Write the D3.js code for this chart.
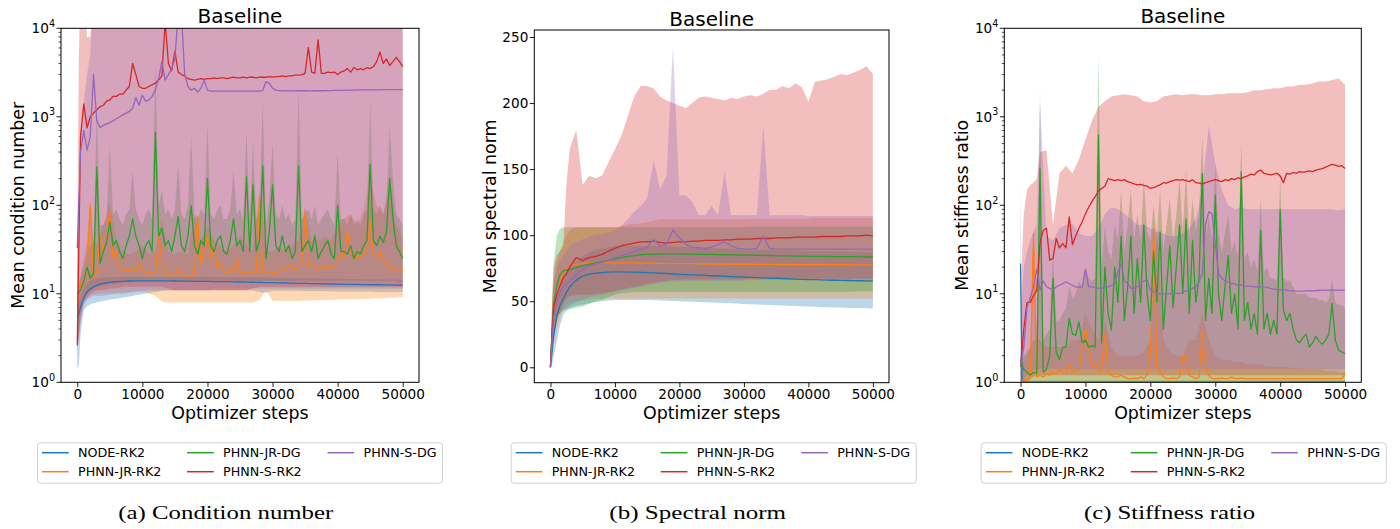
<!DOCTYPE html>
<html><head><meta charset="utf-8">
<script src="https://cdn.jsdelivr.net/npm/d3@7"></script>
<style>body{margin:0;background:#fff;} text{font-family:"DejaVu Sans",sans-serif;}</style>
</head><body>
<script>
// ---------------- DATA ----------------
const seriesNames = ["NODE-RK2","PHNN-JR-RK2","PHNN-JR-DG","PHNN-S-RK2","PHNN-S-DG"];
const seriesColors = ["#1f77b4","#ff7f0e","#2ca02c","#d62728","#9467bd"];
const xTicks = [0,10000,20000,30000,40000,50000];
const linTicks = [0,50,100,150,200,250];
const logTicks = [1,10,100,1000,10000];
const captions = ["(a) Condition number","(b) Spectral norm","(c) Stiffness ratio"];
const yLabels = ["Mean condition number","Mean spectral norm","Mean stiffness ratio"];
const titleText = "Baseline";
const xLabelText = "Optimizer steps";

// step grids
const stepsFine = d3.range(0, 50001, 500);            // 101 steps
const stepsCoarse = [0,250,500,1000,1500,2000,2500,3000].concat(d3.range(4000, 50001, 1000)); // 55 steps

// ---- (a) condition number ----
const cnBlue = [5.5,6,7,9,10.5,11.3,12,12.5,
 13.1,13.5,13.7,13.85,13.95,14,14,
 14,14,14,14,13.95,13.9,13.9,13.85,13.8,13.8,
 13.75,13.7,13.7,13.65,13.6,13.55,13.5,13.45,13.4,13.35,
 13.3,13.25,13.2,13.15,13.1,13.05,13,12.95,12.9,12.85,
 12.8,12.78,12.75,12.72,12.7,12.65,12.62,12.6,12.55,12.5];
const cnOrange = [9,12,15,18,100,15,18,45,30,38,
 85,25,30,20,19,18,18.5,18,18,22,
 18,17,17,17.5,17,45,22,17,16.5,16,
 16,19,16,16,15.8,15.8,16,75,22,30,
 45,25,35,20,22,18,17,19,17,25,
 17,18,17,17.5,17,17,120,17.5,17,17,
 17.5,17,18,18,19,21,20,19,20,22,
 85,20,21,20,19,20,21,19,20,21,
 24,28,26,50,30,25,27,26,28,30,
 68,28,26,30,24,21,20,19,19,18.5,
 18.5];
const cnGreen = [10,11,14,20,15,17,270,22,30,38,
 65,35,40,30,25,35,45,70,45,35,
 25,35,40,30,670,45,55,35,40,30,
 45,75,35,30,45,100,35,28,40,35,
 200,35,30,40,45,30,28,40,70,35,
 40,30,210,30,170,30,40,280,25,50,
 170,35,30,45,30,35,25,30,280,30,
 35,40,30,45,25,30,35,40,28,25,
 100,30,30,28,35,25,30,28,35,40,
 290,40,35,45,38,50,200,70,35,30,
 25];
const cnRed = [2.6,600,1400,750,1000,1100,1200,1300,1350,1500,
 1550,1700,1700,1800,1800,2000,2200,4000,3000,2200,
 2100,2100,2200,2300,2400,2600,2900,12000,4000,3300,
 5500,3200,3000,2900,2700,2650,2600,2650,2700,2650,
 2700,2700,2750,2700,2750,2750,2700,2750,2800,2750,
 2750,2800,2750,2800,2800,2750,2800,2800,2800,2850,
 2800,2850,2850,2900,2850,2900,2900,2950,2950,3000,
 3100,6100,3200,3100,7400,3100,3100,3200,3150,3200,
 3000,3200,3300,3500,3200,3600,3400,3500,3400,3600,
 3500,3700,4200,5400,4000,4500,3800,4200,4700,4200,
 3700];
const cnPurple = [33,400,700,420,600,3000,900,760,800,830,
 860,900,950,1000,1050,1100,1150,1250,1650,1350,
 1750,1500,1550,1700,2000,2700,4200,2600,3000,3500,
 4500,15000,15000,3000,2200,2000,2100,1900,2100,2600,
 2000,1950,1950,1950,1950,1950,1950,1950,1950,1950,
 1950,1950,1950,1950,1950,1950,1950,1980,2500,2400,
 2100,2000,1980,1970,1960,1960,1960,1960,1970,1970,
 1970,1960,1960,1970,1980,1970,1970,1980,1980,1990,
 1990,1990,2000,2000,2000,2000,2010,2010,2010,2020,
 2020,2020,2020,2020,2030,2030,2030,2030,2030,2030,
 2030];
const cnBlueLo = [1.4,1.6,3.5,6.5,7.2,7.6,7.8,8,
 8.3,8.6,8.8,9,9.3,9.6,9.9,
 10.2,10.5,10.8,11,11,11,11,11,11,11,
 11,11,11,11,11,11,10.8,10.5,10.3,10.8,
 10.8,10.8,10.8,10.8,10.7,10.7,10.7,10.7,10.7,10.6,
 10.6,10.6,10.6,10.6,10.6,10.5,10.5,10.5,10.5,10.5];
const cnBlueHi = [8,8,9.5,11.5,13,14,14.5,15,
 15.3,15.5,15.5,15.6,15.6,15.6,15.6,
 15.6,15.6,15.6,15.6,15.6,15.6,15.6,15.6,15.6,15.6,
 15.5,15.5,15.5,15.5,15.4,15.4,15.4,15.3,15.3,15.2,
 15.2,15.1,15.1,15,15,14.9,14.9,14.8,14.8,14.8,
 14.7,14.7,14.7,14.6,14.6,14.6,14.5,14.5,14.5,14.5];
const cnOrangeLo = [2,4,6,8,9,9.5,9.8,10,
 10.2,10.3,10.3,10.4,10.5,10.8,11,
 10,9.5,8.2,8,8,8,8,8,8,8,
 8,8,8,8,8,8,8,8.5,11,8.3,
 8.3,8.3,8.3,8.3,8.4,8.4,8.4,8.5,8.5,8.6,
 8.6,8.7,8.7,8.8,8.8,8.9,8.9,9,9.1,9.2];
const cnOrangeHi = [10,13,16,25,40,120,40,35,
 60,110,40,30,28,30,35,
 28,30,70,30,28,30,28,80,40,60,
 40,35,30,35,45,35,30,150,30,30,
 35,30,35,40,100,40,40,45,40,60,
 70,80,60,90,200,100,80,200,60,45];
// green band on the fine step grid
const cnGreenLo = [2.5,7,9,10,11,11.5,12,12,12.5,12.5,
 13,13,13,13,13.5,13.5,13.5,13.5,14,14,
 14,14,14,14,14,14,14,14,14,14,
 14,14,14,14,14,14,14,14,14,14,
 14,14,14,14,14,14,14,14,14,14,
 14,14,14,14,14,14,14,14,14,14,
 14,14,14,14,14,14,14,14,14,14,
 14,14,14,14,14,14,14,14,14,14,
 14,14,14,14,14,14,14,14,14,14,
 14,14,14,14,14,14,14,14,13.8,13.6,
 13.5];
const cnGreenHi = [12,15,20,30,35,40,1200,60,60,70,
 500,80,90,70,60,80,90,250,90,70,
 60,80,90,70,4000,100,150,80,90,70,
 90,300,80,70,100,600,80,70,90,80,
 800,80,70,90,100,70,70,90,250,80,
 90,70,700,70,500,70,90,1500,60,120,
 500,80,70,100,70,80,60,70,2000,70,
 80,90,70,100,60,70,80,90,70,60,
 400,70,70,60,80,60,70,60,80,90,
 1500,90,80,100,80,110,800,200,80,70,
 60];
const cnRedLo = [2.5,3,5,8,9,10,10.5,11,
 11,11.5,11.5,12,12,12,12,
 12,12,12,11.5,11,11,11,11,11,11,
 11,11,11,11,11,11,11.5,12,12,12,
 12,12,12,12,12,12,12,12,12,12,
 12,12,12,12,12,12,12,12,12,12];
const cnRedHi = [40,5000,30000,30000,8000,8000,30000,30000,
 30000,30000,30000,30000,30000,30000,30000,
 30000,30000,30000,30000,30000,30000,30000,30000,30000,30000,
 30000,30000,30000,30000,30000,30000,30000,30000,30000,30000,
 30000,30000,30000,30000,30000,30000,30000,30000,30000,30000,
 30000,30000,30000,30000,30000,30000,30000,30000,30000,30000];
const cnPurpleLo = [2.6,3,5,7.5,8.5,9,9.5,9.5,
 9.5,9.8,10,10,10.2,10.5,10.5,
 11,11,11,11,11,11,11,11,11,11,
 11.5,11.5,11.5,11.5,11.5,11.5,11.5,11.5,11.5,11.5,
 11.5,11.5,11.5,11.5,11.5,11.5,11.5,11.5,11.5,11.5,
 11.5,11.5,11.5,11.5,11.5,11.5,11.5,11.5,11.5,11.5];
const cnPurpleHi = [33,60,600,1500,3000,5000,30000,30000,
 30000,30000,30000,30000,30000,30000,30000,
 30000,30000,30000,30000,30000,30000,30000,30000,30000,30000,
 30000,30000,30000,30000,30000,30000,30000,30000,30000,30000,
 30000,30000,30000,30000,30000,30000,30000,30000,30000,30000,
 30000,30000,30000,30000,30000,30000,30000,30000,30000,30000];

// ---- (b) spectral norm ----
const snBlue = [0,12,24,39,47,52,57,61,
 66,69,70.5,71.2,71.6,72,72.2,
 72.2,72.1,72,71.8,71.6,71.4,71.2,71,70.6,70.3,
 70.1,69.9,69.7,69.5,69.3,69.1,68.9,68.7,68.5,68.3,
 68.1,67.9,67.7,67.5,67.4,67.2,67,66.8,66.6,66.4,
 66.3,66.1,66,65.9,65.8,65.7,65.6,65.5,65.4,65.3];
const snOrange = [0,25,42,55,63,72,75,76.5,
 78,78.7,79,79,79,79,79,
 79,79,79,79,78.9,78.8,78.7,78.6,78.5,78.5,
 78.4,78.4,78.3,78.3,78.2,78.2,78.1,78.1,78,78,
 78,77.9,77.9,77.9,77.8,77.8,77.8,77.8,77.7,77.7,
 77.7,77.7,77.6,77.6,77.6,77.6,77.5,77.5,77.5,77.5];
const snGreen = [0,28,48,62,70,73,73.5,74,
 75.5,76.5,78,79,80,81,82,
 83,84,84.5,85.2,85.5,85.6,85.7,85.8,85.8,85.8,
 85.7,85.6,85.5,85.5,85.4,85.3,85.2,85.1,85,85,
 84.9,84.8,84.7,84.6,84.5,84.4,84.3,84.2,84.1,84,
 84,83.9,83.9,83.8,83.8,83.7,83.7,83.6,83.5,83.5];
const snRed = [0,25,45,55,62,68,71,76,
 83,81,83,84,85.5,88,90,
 92,93,94,95,95,95.5,94.5,94,94.5,95,
 95,95.5,95.5,96,96,96,96.5,96.5,97,97,
 97,97.5,97.5,97.5,98,98,98,98.5,98.5,98.5,
 98.5,99,99,99,99,99.5,99.5,99.5,100,99.5];
const snPurple = [0,20,38,50,57,61,63,65,
 70,74,76.5,78,79.5,81,83,
 84.5,86,87.5,89,91,96.5,92,93,104,98,
 93,91,90.5,90,91,93,95,92,90,89.5,
 89.5,90,99,90,89.5,89.5,89.5,89.5,89.5,89.5,
 89.5,89.5,89.5,89.5,89.5,89.5,89.5,89.5,89.5,89.5];
const snBlueLo = [0,2,8,20,32,40,43,45,
 46.5,47.5,48.5,49.5,50,50.5,51,
 51,51,51,51,51,50.8,50.6,50.4,50.2,50,
 49.8,49.6,49.4,49.2,49,48.8,48.6,48.4,48.2,48,
 47.8,47.6,47.4,47.2,47,46.8,46.6,46.4,46.2,46,
 45.8,45.6,45.5,45.3,45.2,45,44.9,44.8,44.6,44.5];
const snBlueHi = [0,25,40,55,62,68,72,76,
 80,84,87,89,90,91,92,
 92,92,92,92,92,92,91.8,91.6,91.4,91.2,
 91,90.8,90.6,90.4,90.2,90,89.8,89.6,89.4,89.2,
 89,88.9,88.8,88.7,88.6,88.5,88.4,88.3,88.2,88.1,
 88,87.9,87.8,87.7,87.6,87.5,87.4,87.3,87.2,87.1];
const snOrangeLo = [0,5,18,30,38,44,47,49,
 50,51,51.5,51.8,52,52,52,
 52,52,52,52,52,52,52,52,52,52,
 52,52,52,52,52,52,52,52,52,52,
 52,52,52,52,52,52,52,52,52,52,
 52,52,52,52,52,52,52,52,52,52];
const snOrangeHi = [0,45,65,80,88,95,100,104,
 106,106,106,106,106,106,106,
 107,108,108.5,109,110,111,112,112,112,112,
 112,112,112,112,112,112,112,112,112,112,
 112.5,112.5,112.5,112.5,112.5,112.5,112.5,112.5,112.5,112.5,
 113,113,113,113,113,113,113,113,113,113];
const snGreenLo = [0,10,25,38,41,43,43.5,44,
 45,46,48,50,51,53,55,
 56,56.5,57,57,57,57,57,57,57,57,
 57,57,57,57,57,57,57,57,57,57,
 57,57,57,57,57,57,57,57,57,57,
 57,57,57,57,57,57.2,57.2,57.4,57.4,57.5];
const snGreenHi = [0,50,80,100,105,106,106,106,
 106,106,106,106,106,106,106,
 106,106,106,106,106,106,106,106,106,106,
 106,106,106,106,106,106,106,106,106,106,
 106.5,106.5,106.5,106.5,106.5,106.5,106.5,106.5,106.5,106.5,
 106.5,106.5,106.5,106.5,106.5,106.5,106.5,106.5,106.5,106.5];
const snRedLo = [0,10,22,35,42,48,52,54,
 55,55,55,55.5,56,57,58,
 59,60,61,62,63,64,65,65.5,66,66,
 66.5,66.5,66.5,66.5,66.5,66.5,66.5,66.5,66.5,66.5,
 67,67,67,67,67,67,67,67,67,67,
 67,67,67,67,67,67,67,67,67,67];
const snRedHi = [0,50,75,85,88,92,140,165,
 180,138,145,143,145,155,165,
 175,190,205,213,213,211,205,202,200,198,
 196,200,204,205,204,203,202,204,203,205,
 206,205,207,210,210,213,211,215,212,201,
 216,217,218,220,222,221,223,225,228,222];
const snPurpleLo = [0,10,25,38,42,44,45,47,
 49,51,53,54,55,56,57,
 58,59,60,61,62,63,64,64.5,65,65,
 65.5,65.5,65.5,65.5,65.5,65.5,65.5,65.5,65.5,65.5,
 66,66,66,66,66,66,66,66,66,66,
 66,66,66,66,66,66,66,66,66,66];
const snPurpleHi = [0,40,60,75,80,85,88,92,
 95,97,99,100,101,102,104,
 107,112,118,122,128,157,135,145,243,130,
 130,125,115,115,122,115,148,115,115,115,
 115,115,183,115,115,115,115,115,115,114.5,
 114.5,114.5,114.5,114.5,114.5,114.5,114.5,114.5,114.5,114.5];

// ---- (c) stiffness ratio ----
const srBlue = [22,1,1,1,1,1,1,1,
 1,1,1,1,1,1,1,
 1,1,1,1,1,1,1,1,1,1,
 1,1,1,1,1,1,1,1,1,1,
 1,1,1,1,1,1,1,1,1,1,
 1,1,1,1,1,1,1,1,1,1];
const srOrange = [1.0,1.05,1.05,1.1,48,1.15,1.2,1.15,1.25,1.2,
 1.3,1.25,1.4,1.3,1.25,1.6,1.3,1.35,1.4,2.5,
 4.0,2.5,1.5,1.7,1.3,1.4,3.6,1.3,1.2,1.15,
 1.15,1.2,1.15,1.1,1.1,1.12,1.1,1.15,1.1,1.2,
 1.8,55,1.5,1.3,1.15,1.1,1.1,1.12,1.1,1.15,
 1.9,2.0,1.2,1.15,1.1,1.15,3.8,1.5,1.2,1.1,
 1.1,1.1,1.12,1.1,1.1,1.15,1.1,1.1,1.12,1.1,
 1.1,1.1,1.1,1.1,1.1,1.1,1.1,1.1,1.1,1.1,
 1.1,1.1,1.1,1.1,1.1,1.1,1.1,1.1,1.1,1.1,
 1.1,1.1,1.1,1.1,1.1,1.1,1.1,1.1,1.1,1.1,
 1.25];
const srGreen = [1.8,1.4,1.3,1.2,1.3,1.25,260,1.3,1.4,2.0,
 15,2.2,1.8,2.5,2.5,5.3,3.5,3.4,4.8,2.8,
 3.0,2.5,2.6,2.5,620,2.8,20,6,3.9,20,
 8,45,5,12,45,6,25,8,60,10,
 5,30,8,50,4,12,35,7,20,60,
 10,70,6,40,8,15,230,5,15,6,
 130,10,5,12,27,6,10,4,240,5,
 8,4,6,3.5,52,4,6,3.5,5,3.5,
 90,6.5,5,6,4,3,2.8,3.2,3.5,2.5,
 2.8,3.3,2.9,2.7,3.0,3.5,7.8,3,2.3,2.2,
 2.1];
const srRed = [1.5,4,8,8,9.5,11,38,52,55,24,
 25,42,33,37,33,74,36,45,55,65,
 80,95,110,125,145,155,165,200,195,190,
 195,190,195,185,180,175,170,172,168,165,
 155,158,165,170,180,178,185,190,195,192,
 195,190,185,195,180,178,175,180,185,190,
 195,190,185,195,190,200,195,205,200,210,
 215,225,220,240,250,230,225,220,225,230,
 215,180,230,225,235,230,240,235,240,245,
 240,250,255,260,270,280,290,285,275,280,
 260];
const srPurple = [1.5,2.5,7,9,12,19,11,14,12,11.5,
 11,12,12.5,13,13.7,13,12.5,12,11.8,12,
 19,12,12,11.8,11.5,11.5,12,12,12.5,13,
 18,22,14,13,11.5,11.5,12,13,14,14.5,
 11,10.5,10.2,10,10,10,10,10,10.2,10,
 10.5,10.8,11,11.5,12,13.5,17,60,85,80,
 37,17,15,14,13.5,13,13,12.5,12.5,12.2,
 12.2,12.2,12,12,12,12,11.8,11.5,11.3,11.2,
 11,11,11,10.8,10.8,10.7,10.7,10.7,10.8,10.8,
 10.8,10.9,10.9,11,11,11,11,11,11,11,
 11];
const srBlueLo = [1,0.95,0.95,0.95,0.95,0.95,0.95,0.95,
 0.95,0.95,0.95,0.95,0.95,0.95,0.95,
 0.95,0.95,0.95,0.95,0.95,0.95,0.95,0.95,0.95,0.95,
 0.95,0.95,0.95,0.95,0.95,0.95,0.95,0.95,0.95,0.95,
 0.95,0.95,0.95,0.95,0.95,0.95,0.95,0.95,0.95,0.95,
 0.95,0.95,0.95,0.95,0.95,0.95,0.95,0.95,0.95,0.95];
const srBlueHi = [190,1.2,1.05,1.05,1.05,1.05,1.05,1.05,
 1.05,1.05,1.05,1.05,1.05,1.05,1.05,
 1.05,1.05,1.05,1.05,1.05,1.05,1.05,1.05,1.05,1.05,
 1.05,1.05,1.05,1.05,1.05,1.05,1.05,1.05,1.05,1.05,
 1.05,1.05,1.05,1.05,1.05,1.05,1.05,1.05,1.05,1.05,
 1.05,1.05,1.05,1.05,1.05,1.05,1.05,1.05,1.05,1.05];
const srOrangeLo = [0.95,0.95,0.95,0.95,0.95,0.95,0.95,0.95,
 0.95,0.95,0.95,0.95,0.95,0.95,0.95,
 0.95,0.95,0.95,0.95,0.95,0.95,0.95,0.95,0.95,0.95,
 0.95,0.95,0.95,0.95,0.95,0.95,0.95,0.95,0.95,0.95,
 0.95,0.95,0.95,0.95,0.95,0.95,0.95,0.95,0.95,0.95,
 0.95,0.95,0.95,0.95,0.95,0.95,0.95,0.95,0.95,0.95];
const srOrangeHi = [1.3,1.5,1.8,2,2.5,60,3,3,
 2.5,2.5,2.5,2.5,3,3,6,
 4,3,5,2.5,2,2,2,2,2.2,3,
 60,3,2.2,2,2,3,3,6,3,2,
 1.8,1.8,1.7,1.7,1.6,1.6,1.6,1.5,1.5,1.5,
 1.5,1.45,1.45,1.4,1.4,1.4,1.35,1.35,1.3,1.3];
// green band on the fine step grid
const srGreenLo = [0.95,0.95,0.95,0.95,0.95,0.95,0.95,0.95,0.95,0.95,
 0.95,0.95,0.95,0.95,0.95,0.95,0.95,0.95,0.95,0.95,
 0.95,0.95,0.95,0.95,0.95,0.95,0.95,0.95,0.95,0.95,
 0.95,0.95,0.95,0.95,0.95,0.95,0.95,0.95,0.95,0.95,
 0.95,0.95,0.95,0.95,0.95,0.95,0.95,0.95,0.95,0.95,
 0.95,0.95,0.95,0.95,0.95,0.95,0.95,0.95,0.95,0.95,
 0.95,0.95,0.95,0.95,0.95,0.95,0.95,0.95,0.95,0.95,
 0.95,0.95,0.95,0.95,0.95,0.95,0.95,0.95,0.95,0.95,
 0.95,0.95,0.95,0.95,0.95,0.95,0.95,0.95,0.95,0.95,
 0.95,0.95,0.95,0.95,0.95,0.95,0.95,0.95,0.95,0.95,
 0.95];
const srGreenHi = [2,2,2.2,2.5,3,3,2200,3,3.5,4,
 30,5,5,6,7,12,9,10,14,12,
 20,15,14,15,5000,20,60,30,25,60,
 40,150,30,60,150,40,80,40,200,50,
 40,100,40,150,30,60,120,40,80,200,
 50,250,40,120,50,80,600,40,80,40,
 300,50,30,50,80,30,40,25,500,25,
 30,20,25,18,120,18,20,15,15,14,
 200,15,14,14,12,10,10,10,10,9,
 9,9,8.5,8.5,8,8.5,15,8,7.5,7.5,
 7];
const srRedLo = [0.95,1,1,1.05,1.1,1.15,1.2,1.2,
 1.2,1.2,1.2,1.2,1.2,1.2,1.2,
 1.2,1.2,1.2,1.2,1.2,1.2,1.2,1.2,1.2,1.2,
 1.2,1.2,1.2,1.2,1.2,1.2,1.2,1.2,1.2,1.2,
 1.2,1.2,1.2,1.2,1.2,1.2,1.2,1.2,1.2,1.2,
 1.2,1.2,1.2,1.2,1.2,1.2,1.2,1.2,1.2,1.2];
const srRedHi = [1.5,30,80,150,170,180,200,400,
 420,60,230,280,230,330,550,
 900,1300,1500,1700,1750,1800,1750,1700,1500,1450,
 1500,1700,1750,1800,1750,1800,1800,1750,1750,1800,
 1800,1850,1850,1850,1900,2000,2000,2050,2100,2100,
 2200,2200,2300,2300,2400,2500,2500,2600,2700,2300];
const srPurpleLo = [0.95,1,1.1,1.2,1.3,1.4,1.4,1.4,
 1.4,1.4,1.4,1.4,1.4,1.4,1.4,
 1.4,1.4,1.4,1.4,1.4,1.4,1.4,1.4,1.4,1.4,
 1.4,1.4,1.4,1.4,1.4,1.4,1.4,1.4,1.4,1.4,
 1.4,1.4,1.4,1.4,1.4,1.4,1.4,1.4,1.4,1.4,
 1.4,1.4,1.4,1.4,1.4,1.4,1.4,1.4,1.4,1.4];
const srPurpleHi = [1.5,10,20,30,40,50,60,1500,
 45,40,55,60,62,48,45,
 45,55,80,95,90,80,70,60,60,55,
 50,48,45,45,48,55,70,150,800,300,
 150,100,90,95,90,90,90,90,90,90,
 90,90,90,90,90,90,90,90,88,90];

// ---------------- CHART ----------------
const W = 1400, H = 529;
const svg = d3.select("body").append("svg").attr("width", W).attr("height", H);
svg.append("rect").attr("width", W).attr("height", H).attr("fill", "#fff");

const C = stepsCoarse, F = stepsFine;
const panels = [
  { left:61, right:419, top:28.3, bottom:382.3, log:true, ylabelX:17.5, titleY:23.3,
    means:[cnBlue,cnOrange,cnGreen,cnRed,cnPurple], meanGrid:[C,F,F,F,F],
    lo:[cnBlueLo,cnOrangeLo,cnGreenLo,cnRedLo,cnPurpleLo],
    hi:[cnBlueHi,cnOrangeHi,cnGreenHi,cnRedHi,cnPurpleHi], bandGrid:[C,C,F,C,C],
    legendLeft:37, capX:225.8, capW:215 },
  { left:534.3, right:889, top:30, bottom:382.7, log:false, ydom:[-11.66,255.3], ylabelX:489.7, titleY:25.7,
    means:[snBlue,snOrange,snGreen,snRed,snPurple], meanGrid:[C,C,C,C,C],
    lo:[snBlueLo,snOrangeLo,snGreenLo,snRedLo,snPurpleLo],
    hi:[snBlueHi,snOrangeHi,snGreenHi,snRedHi,snPurpleHi], bandGrid:[C,C,C,C,C],
    legendLeft:510.7, capX:697.7, capW:176.7 },
  { left:1004.3, right:1361.3, top:28.3, bottom:382.3, log:true, ylabelX:961.7, titleY:23.3,
    means:[srBlue,srOrange,srGreen,srRed,srPurple], meanGrid:[C,F,F,F,F],
    lo:[srBlueLo,srOrangeLo,srGreenLo,srRedLo,srPurpleLo],
    hi:[srBlueHi,srOrangeHi,srGreenHi,srRedHi,srPurpleHi], bandGrid:[C,C,F,C,C],
    legendLeft:980.7, capX:1169.5, capW:171 }
];

panels.forEach((p, pi) => {
  p.means.forEach((m, i) => { if (m.length !== p.meanGrid[i].length) throw new Error(`panel ${pi} mean ${i}: ${m.length} vs ${p.meanGrid[i].length}`); });
  p.lo.forEach((m, i) => { if (m.length !== p.bandGrid[i].length) throw new Error(`panel ${pi} lo ${i}: ${m.length}`); });
  p.hi.forEach((m, i) => { if (m.length !== p.bandGrid[i].length) throw new Error(`panel ${pi} hi ${i}: ${m.length}`); });

  const x = d3.scaleLinear().domain([-2500, 52500]).range([p.left, p.right]);
  const y = p.log ? d3.scaleLog().domain([1, 1e4]).range([p.bottom, p.top])
                  : d3.scaleLinear().domain(p.ydom).range([p.bottom, p.top]);
  const g = svg.append("g");
  const clipId = "clip" + pi;
  g.append("clipPath").attr("id", clipId).append("rect")
    .attr("x", p.left).attr("y", p.top).attr("width", p.right - p.left).attr("height", p.bottom - p.top);
  const plot = g.append("g").attr("clip-path", `url(#${clipId})`);

  // bands (below the lines)
  seriesNames.forEach((nm, i) => {
    const grid = p.bandGrid[i];
    const data = grid.map((s, j) => [s, p.lo[i][j], p.hi[i][j]]);
    const area = d3.area().x(d => x(d[0])).y0(d => y(d[1])).y1(d => y(d[2]));
    plot.append("path").attr("d", area(data)).attr("fill", seriesColors[i]).attr("fill-opacity", 0.3);
  });
  // mean lines
  seriesNames.forEach((nm, i) => {
    const data = p.meanGrid[i].map((s, j) => [s, p.means[i][j]]);
    const line = d3.line().x(d => x(d[0])).y(d => y(d[1]));
    plot.append("path").attr("d", line(data)).attr("fill", "none")
      .attr("stroke", seriesColors[i]).attr("stroke-width", 1.3).attr("stroke-linejoin", "round");
  });

  // x axis
  const xa = g.append("g").attr("transform", `translate(0,${p.bottom})`)
    .call(d3.axisBottom(x).tickValues(xTicks).tickFormat(d3.format("d")).tickSize(4.5).tickPadding(2.5));
  xa.select(".domain").remove();
  xa.selectAll("text").attr("font-size", 13.6).attr("font-family", "DejaVu Sans").attr("fill", "#000");
  xa.selectAll("line").attr("stroke", "#000").attr("stroke-width", 0.9);

  // y axis
  if (p.log) {
    const ya = g.append("g");
    logTicks.forEach((v, k) => {
      const yy = y(v);
      ya.append("line").attr("x1", p.left - 4.5).attr("x2", p.left).attr("y1", yy).attr("y2", yy)
        .attr("stroke", "#000").attr("stroke-width", 0.9);
      const t = ya.append("text").attr("x", p.left - 6).attr("y", yy + 4.9)
        .attr("text-anchor", "end").attr("font-size", 13.6).attr("fill", "#000");
      t.append("tspan").text("10");
      t.append("tspan").attr("dy", -6.5).attr("font-size", 9.6).text(String(k));
    });
    for (let k = 0; k < 4; k++) for (let m = 2; m <= 9; m++) {
      const yy = y(m * Math.pow(10, k));
      ya.append("line").attr("x1", p.left - 2.5).attr("x2", p.left).attr("y1", yy).attr("y2", yy)
        .attr("stroke", "#000").attr("stroke-width", 0.7);
    }
  } else {
    const ya = g.append("g").attr("transform", `translate(${p.left},0)`)
      .call(d3.axisLeft(y).tickValues(linTicks).tickSize(4.5).tickPadding(1.5));
    ya.select(".domain").remove();
    ya.selectAll("text").attr("font-size", 13.6).attr("font-family", "DejaVu Sans").attr("fill", "#000");
    ya.selectAll("line").attr("stroke", "#000").attr("stroke-width", 0.9);
  }

  // spines
  g.append("rect").attr("x", p.left).attr("y", p.top).attr("width", p.right - p.left).attr("height", p.bottom - p.top)
    .attr("fill", "none").attr("stroke", "#000").attr("stroke-width", 1);

  const cx = (p.left + p.right) / 2;
  g.append("text").attr("x", cx).attr("y", p.titleY).attr("text-anchor", "middle")
    .attr("font-size", 20).attr("fill", "#000").text(titleText);
  g.append("text").attr("x", cx).attr("y", 419).attr("text-anchor", "middle")
    .attr("font-size", 17.4).attr("fill", "#000").text(xLabelText);
  g.append("text").attr("transform", `translate(${p.ylabelX},${(p.top + p.bottom) / 2}) rotate(-90)`)
    .attr("text-anchor", "middle").attr("dominant-baseline", "central")
    .attr("font-size", 17.4).attr("fill", "#000").text(yLabels[pi]);

  // legend
  const lg = g.append("g").attr("transform", `translate(${p.legendLeft},442.3)`);
  lg.append("rect").attr("x", 0.5).attr("y", 0.5).attr("width", 405).attr("height", 40.4).attr("rx", 3)
    .attr("fill", "#fff").attr("fill-opacity", 0.8).attr("stroke", "#d0d0d0").attr("stroke-width", 1);
  const colX = [0, 145, 285.5];
  const rowY = [10.4, 29.4];
  seriesNames.forEach((nm, i) => {
    const c = Math.floor(i / 2), r = i % 2;
    const lx = colX[c];
    lg.append("line").attr("x1", lx + 5).attr("x2", lx + 31.7).attr("y1", rowY[r]).attr("y2", rowY[r])
      .attr("stroke", seriesColors[i]).attr("stroke-width", 1.5);
    lg.append("text").attr("x", lx + 41).attr("y", rowY[r] + 4.6).attr("font-size", 12.7)
      .attr("fill", "#000").text(nm);
  });

  // caption
  g.append("text").attr("x", p.capX).attr("y", 518.5).attr("text-anchor", "middle")
    .style("font-family", "'Liberation Serif', serif")
    .attr("font-size", 19.5).attr("fill", "#000")
    .attr("textLength", p.capW).attr("lengthAdjust", "spacingAndGlyphs").text(captions[pi]);
});
</script>
</body></html>
